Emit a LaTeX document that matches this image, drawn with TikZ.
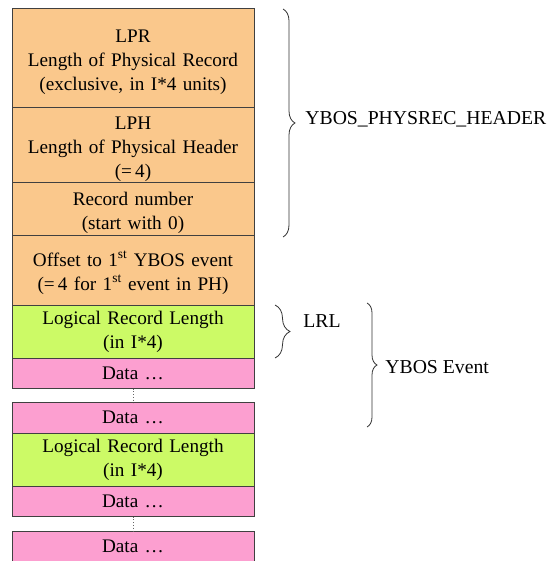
\documentclass[tikz,border=0pt]{standalone}
\usepackage{fontspec}
\setmainfont{Liberation Serif}
\usetikzlibrary{positioning}
\usetikzlibrary{decorations.pathreplacing}
\definecolor{hdrorange}{HTML}{FAC88C}
\definecolor{lrlgreen}{HTML}{CCFA66}
\definecolor{datapink}{HTML}{FC9FD0}

\begin{document}
\begin{tikzpicture}[x=1pt,y=-1pt,node distance=0pt,
	field/.style={draw=black!75,line width=1pt,outer sep=0pt,inner sep=0pt,
		minimum width=242pt,text width=238pt,align=center,
		font=\fontsize{19.2}{24}\selectfont},
	hdr/.style={field,fill=hdrorange,execute at begin node={\rule{0pt}{21pt}}},
	lrl/.style={field,fill=lrlgreen,minimum height=53pt},
	data/.style={field,fill=datapink,minimum height=30.5pt},
	gap/.style={draw=black!60,dotted,thick},
	brace/.style={draw=black!80,line width=0.8pt,decorate,
		decoration={brace,amplitude=12pt}},
	label/.style={inner sep=0pt,anchor=west,font=\fontsize{19.7}{24}\selectfont}]
	\useasboundingbox (0,0) rectangle (553,561);

	\node[hdr,minimum height=99pt] (lpr) at (133,58.5)
		{LPR\\Length of Physical Record\\(exclusive, in I*4 units)};
	\node[hdr,minimum height=75pt] (lph) [below=of lpr]
		{LPH\\Length of Physical Header\\(=\,4)};
	\node[hdr,minimum height=52pt] (recnum) [below=of lph]
		{Record number\\(start with 0)};
	\node[hdr,minimum height=70pt] (offset) [below=of recnum]
		{Offset to 1\textsuperscript{st} YBOS event\\(=\,4 for 1\textsuperscript{st} event in PH)};
	\node[lrl]  (lrlA)  [below=of offset]   {Logical Record Length\\(in I*4)};
	\node[data] (dataA) [below=of lrlA]     {Data \ldots};
	\node[data] (dataB) [below=14pt of dataA] {Data \ldots};
	\node[lrl]  (lrlB)  [below=of dataB]    {Logical Record Length\\(in I*4)};
	\node[data] (dataC) [below=of lrlB]     {Data \ldots};
	\node[data] (dataD) [below=15pt of dataC] {Data \ldots};

	\path
		(dataA) edge[gap] (dataB)
		(dataC) edge[gap] (dataD)
	;

	% braces on the right
	\draw[brace] ([xshift=29pt]lpr.north east) -- ([xshift=29pt,yshift=-2pt]recnum.south east)
		node[label,midway,xshift=22pt,yshift=4pt] (physrec) {YBOS\_PHYSREC\_HEADER};
	\draw[brace,decoration={amplitude=15pt}] ([xshift=21pt]lrlA.north east) -- ([xshift=21pt]lrlA.south east)
		node[label,midway,xshift=28pt,yshift=10pt] (lrltext) {LRL};
	\draw[brace,decoration={amplitude=10pt}] ([xshift=113pt,yshift=2pt]lrlA.north east) -- ([xshift=113pt,yshift=6pt]dataB.south east)
		node[label,midway,xshift=18pt,yshift=-2pt] (event) {YBOS Event};
\end{tikzpicture}
\end{document}
